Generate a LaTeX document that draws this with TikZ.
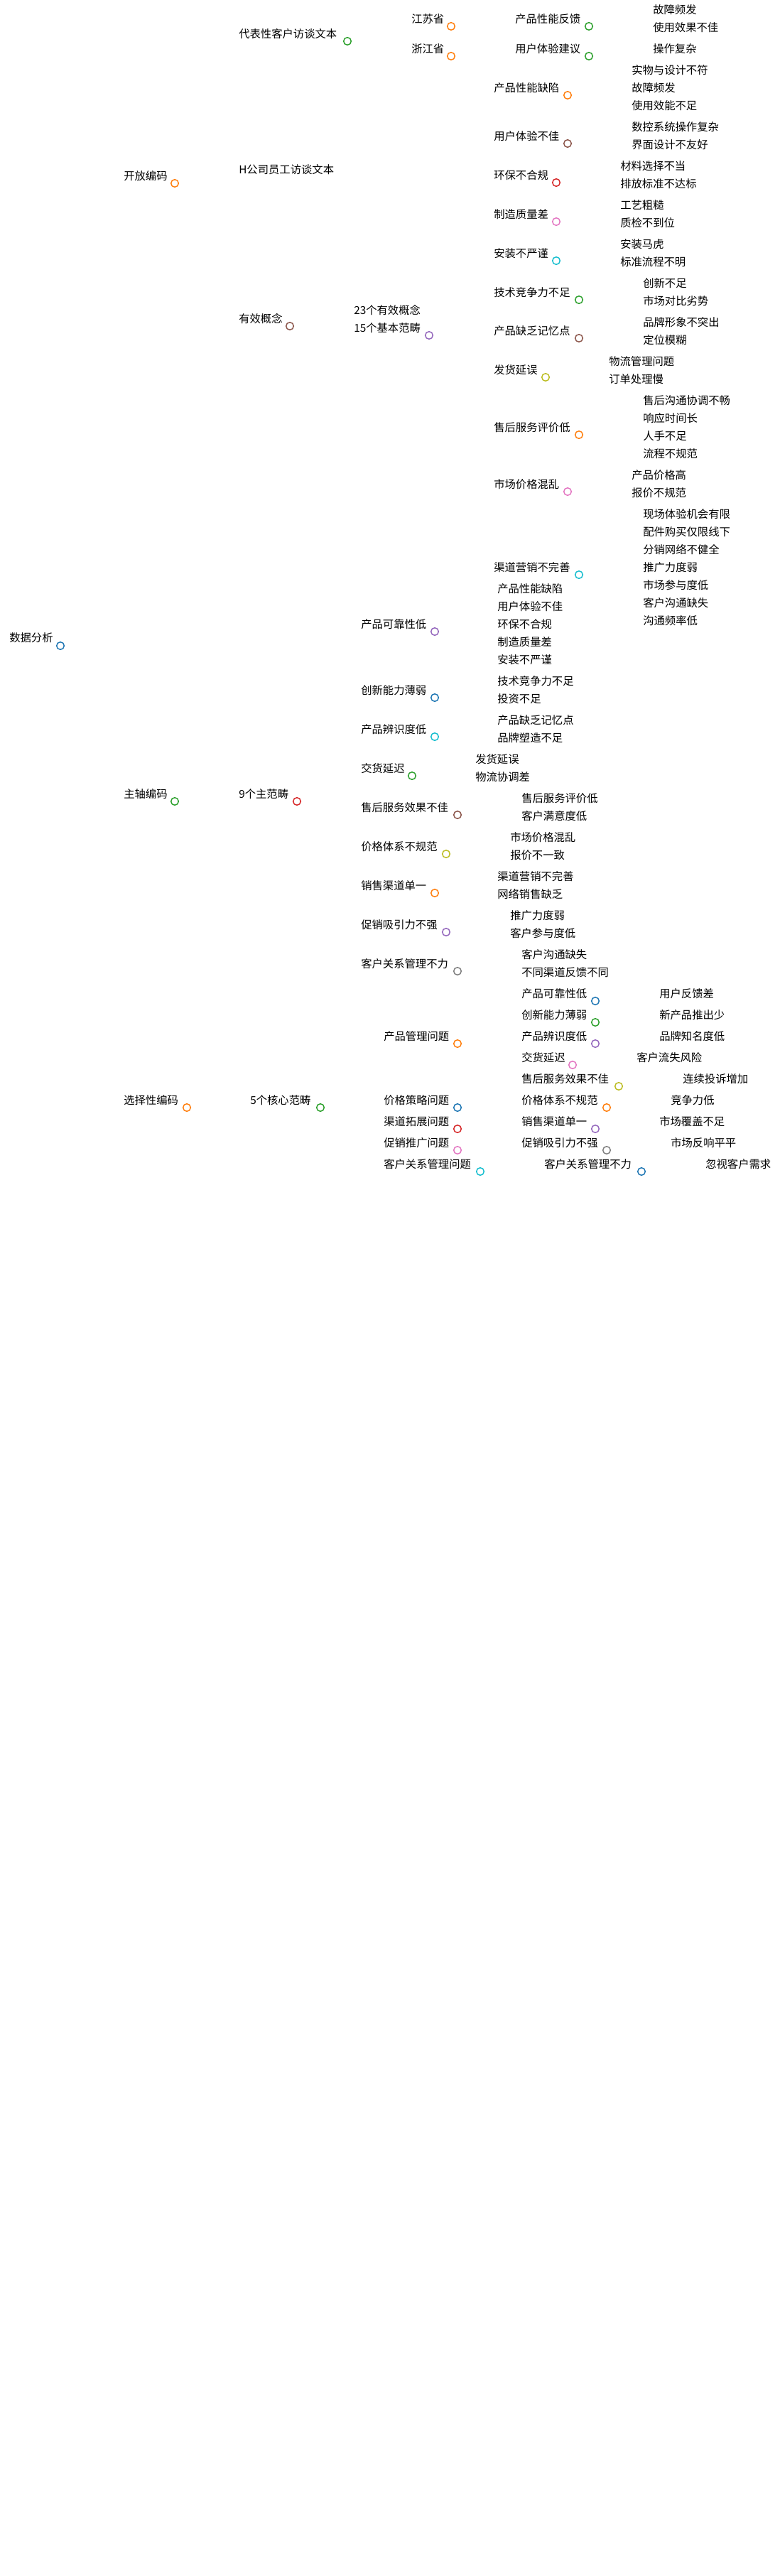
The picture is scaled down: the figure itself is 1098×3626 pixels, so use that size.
\documentclass[tikz,border=0pt]{standalone}
\usepackage{fontspec}
\newfontfamily\cjk{Noto Sans CJK SC}
\usetikzlibrary{calc}
\pgfdeclarelayer{bg}
\pgfsetlayers{bg,main}
\definecolor{mbl}{HTML}{1F77B4}\definecolor{mor}{HTML}{FF7F0E}\definecolor{mgr}{HTML}{2CA02C}
\definecolor{mre}{HTML}{D62728}\definecolor{mpu}{HTML}{9467BD}\definecolor{mbr}{HTML}{8C564B}
\definecolor{mpi}{HTML}{E377C2}\definecolor{mgy}{HTML}{7F7F7F}\definecolor{mol}{HTML}{BCBD22}
\definecolor{mcy}{HTML}{17BECF}
\tikzset{ln/.style={line width=1.1pt},lbl/.style={inner sep=0pt,font=\cjk\fontsize{11.5}{13}\selectfont},
 knob/.style={line width=1.1pt,fill=white}}
\newcommand\M[7]{%
 \coordinate (#1s) at (#3-11,#4);
 \coordinate (#1) at (#5,#4);
 \begin{pgfonlayer}{bg}
 \draw[#6,ln] (#1s) -- (#1);
 \draw[#6,ln] let \p1=(#2),\p2=(#1s) in (\p1) .. controls ({0.5*\x1+0.5*\x2},\y1) and ({0.5*\x1+0.5*\x2},\y2) .. (\p2);
 \end{pgfonlayer}
 \node[lbl,anchor=base west] (#1t) at (#3,#4-5) {#7};
}
\newcommand\MP[7]{\M{#1}{#2}{#3}{#4}{#5}{#6}{#7}\draw[#6,knob] (#1) circle (4pt);}
\begin{document}
\begin{tikzpicture}[x=0.75pt,y=-0.75pt]
\useasboundingbox (0,0) rectangle (1098,3626);
\fill[white] (0,0) rectangle (1098,3626);
\coordinate (R) at (85,909);
\begin{pgfonlayer}{bg}\draw[mbl,line width=2.5pt] (4,909) -- (R);\end{pgfonlayer}
\node[lbl,anchor=base west] (Rt) at (13,903) {数据分析};
% 开放编码
\MP{A}{R}{174}{258}{246}{mor}{开放编码}
\MP{A1}{A}{336}{58}{489}{mgr}{代表性客户访谈文本}
\MP{A11}{A1}{579}{37}{635}{mor}{江苏省}
\MP{A12}{A1}{579}{79}{635}{mor}{浙江省}
\MP{A111}{A11}{725}{37}{829}{mgr}{产品性能反馈}
\MP{A121}{A12}{725}{79}{829}{mgr}{用户体验建议}
\M{A1111}{A111}{919}{24}{993}{mre}{故障频发}
\M{A1112}{A111}{919}{49}{1025}{mgy}{使用效果不佳}
\M{A1211}{A121}{919}{79}{993}{mgy}{操作复杂}
\M{A2}{A}{336}{249}{486}{mcy}{H公司员工访谈文本}
\MP{A3}{A}{336}{459}{408}{mbr}{有效概念}
\M{A31}{A3}{498}{447}{607}{mpi}{23个有效概念}
\MP{A32}{A3}{498}{472}{604}{mpu}{15个基本范畴}
\MP{B1}{A32}{695}{134}{799}{mor}{产品性能缺陷}
\M{B11a}{B1}{889}{109}{1011}{mol}{实物与设计不符}
\M{B11b}{B1}{889}{134}{961}{mcy}{故障频发}
\M{B11c}{B1}{889}{159}{994}{mbl}{使用效能不足}
\MP{B2}{A32}{695}{202}{799}{mbr}{用户体验不佳}
\M{B2a}{B2}{889}{189}{1027}{mor}{数控系统操作复杂}
\M{B2b}{B2}{889}{214}{1011}{mgr}{界面设计不友好}
\MP{B3}{A32}{695}{257}{783}{mre}{环保不合规}
\M{B3a}{B3}{873}{244}{979}{mpu}{材料选择不当}
\M{B3b}{B3}{873}{269}{994}{mbr}{排放标准不达标}
\MP{B4}{A32}{695}{312}{783}{mpi}{制造质量差}
\M{B4a}{B4}{873}{299}{947}{mgy}{工艺粗糙}
\M{B4b}{B4}{873}{324}{961}{mol}{质检不到位}
\MP{B5}{A32}{695}{367}{783}{mcy}{安装不严谨}
\M{B5a}{B5}{873}{354}{947}{mbl}{安装马虎}
\M{B5b}{B5}{873}{379}{979}{mor}{标准流程不明}
\MP{B6}{A32}{695}{422}{815}{mgr}{技术竞争力不足}
\M{B6a}{B6}{905}{409}{979}{mre}{创新不足}
\M{B6b}{B6}{905}{434}{1011}{mpu}{市场对比劣势}
\MP{B7}{A32}{695}{476}{815}{mbr}{产品缺乏记忆点}
\M{B7a}{B7}{905}{464}{1027}{mpi}{品牌形象不突出}
\M{B7b}{B7}{905}{489}{979}{mgy}{定位模糊}
\MP{B8}{A32}{695}{531}{768}{mol}{发货延误}
\M{B8a}{B8}{857}{519}{961}{mcy}{物流管理问题}
\M{B8b}{B8}{857}{544}{947}{mbl}{订单处理慢}
\MP{B9}{A32}{695}{612}{815}{mor}{售后服务评价低}
\M{B9a}{B9}{905}{574}{1042}{mgr}{售后沟通协调不畅}
\M{B9b}{B9}{905}{599}{994}{mre}{响应时间长}
\M{B9c}{B9}{905}{624}{979}{mpu}{人手不足}
\M{B9d}{B9}{905}{649}{994}{mbr}{流程不规范}
\MP{B10}{A32}{695}{692}{799}{mpi}{市场价格混乱}
\M{B10a}{B10}{889}{679}{979}{mgy}{产品价格高}
\M{B10b}{B10}{889}{704}{979}{mol}{报价不规范}
\MP{B12}{A32}{695}{809}{815}{mcy}{渠道营销不完善}
\M{B12a}{B12}{905}{734}{1042}{mbl}{现场体验机会有限}
\M{B12b}{B12}{905}{759}{1042}{mor}{配件购买仅限线下}
\M{B12c}{B12}{905}{784}{1027}{mgr}{分销网络不健全}
\M{B12d}{B12}{905}{809}{994}{mre}{推广力度弱}
\M{B12e}{B12}{905}{834}{1011}{mpu}{市场参与度低}
\M{B12f}{B12}{905}{859}{1011}{mbr}{客户沟通缺失}
\M{B12g}{B12}{905}{884}{994}{mpi}{沟通频率低}
% 主轴编码
\MP{C}{R}{174}{1128}{246}{mgr}{主轴编码}
\MP{C1}{C}{336}{1128}{418}{mre}{9个主范畴}
\MP{E1}{C1}{508}{889}{612}{mpu}{产品可靠性低}
\M{E1a}{E1}{700}{839}{807}{mbr}{产品性能缺陷}
\M{E1b}{E1}{700}{864}{807}{mpi}{用户体验不佳}
\M{E1c}{E1}{700}{889}{792}{mgr}{环保不合规}
\M{E1d}{E1}{700}{914}{792}{mgy}{制造质量差}
\M{E1e}{E1}{700}{939}{792}{mol}{安装不严谨}
\MP{E2}{C1}{508}{982}{612}{mbl}{创新能力薄弱}
\M{E2a}{E2}{700}{969}{824}{mor}{技术竞争力不足}
\M{E2b}{E2}{700}{994}{775}{mgr}{投资不足}
\MP{E3}{C1}{508}{1037}{612}{mcy}{产品辨识度低}
\M{E3a}{E3}{700}{1024}{824}{mbl}{产品缺乏记忆点}
\M{E3b}{E3}{700}{1049}{807}{mor}{品牌塑造不足}
\MP{E4}{C1}{508}{1092}{580}{mgr}{交货延迟}
\M{E4a}{E4}{669}{1079}{743}{mre}{发货延误}
\M{E4b}{E4}{669}{1104}{759}{mpu}{物流协调差}
\MP{E5}{C1}{508}{1147}{644}{mbr}{售后服务效果不佳}
\M{E5a}{E5}{734}{1134}{856}{mpi}{售后服务评价低}
\M{E5b}{E5}{734}{1159}{839}{mgy}{客户满意度低}
\MP{E6}{C1}{508}{1202}{628}{mol}{价格体系不规范}
\M{E6a}{E6}{718}{1189}{824}{mcy}{市场价格混乱}
\M{E6b}{E6}{718}{1214}{807}{mbl}{报价不一致}
\MP{E7}{C1}{508}{1257}{612}{mor}{销售渠道单一}
\M{E7a}{E7}{700}{1244}{824}{mgr}{渠道营销不完善}
\M{E7b}{E7}{700}{1269}{807}{mre}{网络销售缺乏}
\MP{E8}{C1}{508}{1312}{628}{mpu}{促销吸引力不强}
\M{E8a}{E8}{718}{1299}{807}{mbr}{推广力度弱}
\M{E8b}{E8}{718}{1324}{824}{mpi}{客户参与度低}
\MP{E9}{C1}{508}{1367}{644}{mgy}{客户关系管理不力}
\M{E9a}{E9}{734}{1354}{839}{mol}{客户沟通缺失}
\M{E9b}{E9}{734}{1379}{873}{mcy}{不同渠道反馈不同}
% 选择性编码
\MP{D}{R}{174}{1559}{263}{mor}{选择性编码}
\MP{D1}{D}{352}{1559}{451}{mgr}{5个核心范畴}
\MP{F1}{D1}{540}{1469}{644}{mor}{产品管理问题}
\MP{F1a}{F1}{734}{1409}{838}{mbl}{产品可靠性低}
\M{F1a1}{F1a}{928}{1409}{1018}{mor}{用户反馈差}
\MP{F1b}{F1}{734}{1439}{838}{mgr}{创新能力薄弱}
\M{F1b1}{F1b}{928}{1439}{1034}{mre}{新产品推出少}
\MP{F1c}{F1}{734}{1469}{838}{mpu}{产品辨识度低}
\M{F1c1}{F1c}{928}{1469}{1034}{mbr}{品牌知名度低}
\MP{F1d}{F1}{734}{1499}{806}{mpi}{交货延迟}
\M{F1d1}{F1d}{896}{1499}{1001}{mgy}{客户流失风险}
\MP{F1e}{F1}{734}{1529}{871}{mol}{售后服务效果不佳}
\M{F1e1}{F1e}{961}{1529}{1067}{mcy}{连续投诉增加}
\MP{F2}{D1}{540}{1559}{644}{mbl}{价格策略问题}
\MP{F2a}{F2}{734}{1559}{854}{mor}{价格体系不规范}
\M{F2a1}{F2a}{944}{1559}{1018}{mgr}{竞争力低}
\MP{F3}{D1}{540}{1589}{644}{mre}{渠道拓展问题}
\MP{F3a}{F3}{734}{1589}{838}{mpu}{销售渠道单一}
\M{F3a1}{F3a}{928}{1589}{1034}{mbr}{市场覆盖不足}
\MP{F4}{D1}{540}{1619}{644}{mpi}{促销推广问题}
\MP{F4a}{F4}{734}{1619}{854}{mgy}{促销吸引力不强}
\M{F4a1}{F4a}{944}{1619}{1049}{mol}{市场反响平平}
\MP{F5}{D1}{540}{1649}{676}{mcy}{客户关系管理问题}
\MP{F5a}{F5}{766}{1649}{903}{mbl}{客户关系管理不力}
\M{F5a1}{F5a}{993}{1649}{1098}{mor}{忽视客户需求}
\draw[mbl,knob] (R) circle (4pt);
\end{tikzpicture}
\end{document}
